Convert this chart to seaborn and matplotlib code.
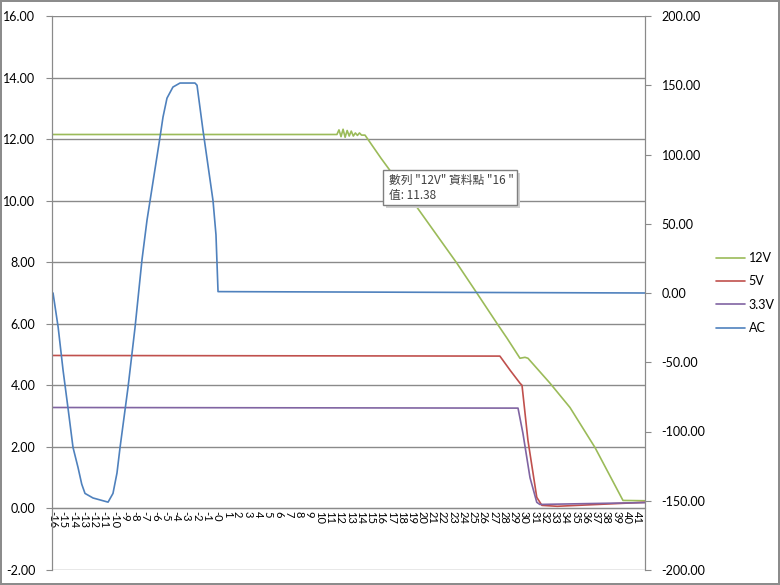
import matplotlib
matplotlib.use("Agg")
import matplotlib.pyplot as plt
import matplotlib.patches as mpatches
import numpy as np
import pandas as pd
import seaborn as sns

# category labels on the x axis (Excel style, "-0" included)
x_labels = [str(v) for v in range(-16, 0)] + ["-0"] + [str(v) for v in range(1, 42)]
x_pos = list(range(-16, 42))

# 12V (left axis)
t_12v = [-16, 11.7, 11.9, 12.1, 12.3, 12.5, 12.7, 12.9, 13.1, 13.3, 13.5, 13.7, 13.9, 14.1, 14.44,
         16.0, 19.5, 23.4, 25.37, 27.3, 28.3, 29.56, 30.05, 30.34, 32.49, 34.44, 36.88, 39.61, 41.76]
v_12v = [12.15, 12.15, 12.3, 12.08, 12.32, 12.06, 12.28, 12.1, 12.26, 12.1, 12.2, 12.12, 12.2, 12.13, 12.13,
         11.38, 9.79, 7.97, 6.99, 6.02, 5.53, 4.88, 4.91, 4.88, 4.07, 3.28, 1.98, 0.26, 0.25]

# 5V (left axis)
t_5v = [-16, 27.6, 28.6, 29.56, 29.76, 30.34, 31.2, 31.7, 33.2, 41.76]
v_5v = [4.97, 4.95, 4.49, 4.07, 4.0, 2.21, 0.36, 0.1, 0.07, 0.2]

# 3.3V (left axis)
t_33v = [-16, 29.37, 29.85, 30.54, 31.2, 31.5, 41.76]
v_33v = [3.28, 3.26, 2.44, 1.0, 0.2, 0.13, 0.19]

# AC (right axis)
t_ac = [-16, -15.5, -15.02, -14.54, -14.05, -13.56, -13.2, -12.88, -12.1, -10.63, -10.15, -9.76,
        -9.46, -8.68, -8.0, -7.32, -6.83, -5.56, -5.27, -4.88, -4.3, -3.61, -2.15, -1.95,
        -1.37, -0.39, -0.1, 0.1, 41.76]
v_ac = [0, -24.7, -55.8, -83, -111.5, -126, -138, -144.7, -148, -151, -144.7, -130,
        -111.5, -68, -25, 24, 52.6, 112.6, 127, 140.7, 148.7, 151.6, 151.6, 150,
        117.6, 66.7, 42, 1, 0]

colors = {"12V": "#9BBB59", "5V": "#C0504D", "3.3V": "#8064A2", "AC": "#4F81BD"}

sns.set_style("white")
plt.rcParams["font.family"] = ["Lato", "DejaVu Sans"]

df_left = pd.concat([
    pd.DataFrame({"t": t_12v, "v": v_12v, "series": "12V"}),
    pd.DataFrame({"t": t_5v, "v": v_5v, "series": "5V"}),
    pd.DataFrame({"t": t_33v, "v": v_33v, "series": "3.3V"}),
])
df_ac = pd.DataFrame({"t": t_ac, "v": v_ac, "series": "AC"})

fig = plt.figure(figsize=(7.8, 5.85), dpi=100)
fig.patch.set_edgecolor("#8c8c8c")
fig.patch.set_linewidth(1.5)
ax = fig.add_axes([52 / 780, 1 - 570 / 585, 593 / 780, 554 / 585])
ax2 = ax.twinx()

sns.lineplot(data=df_left, x="t", y="v", hue="series", palette=colors, sort=False,
             estimator=None, lw=1.2, ax=ax, legend=False)
sns.lineplot(data=df_ac, x="t", y="v", hue="series", palette=colors, sort=False,
             estimator=None, lw=1.2, ax=ax2, legend=False)

grid_c = "#8a8a8a"
ax.set_xlim(-16.1, 41.76)
ax.set_ylim(-2, 16)
ax.set_yticks(np.arange(-2, 17, 2))
ax.set_yticklabels([f"{v:.2f}" for v in np.arange(-2, 17, 2)], fontsize=9)
ax.yaxis.grid(True, color=grid_c, lw=1)
ax.set_axisbelow(True)
ax2.set_ylim(-200, 200)
ax2.set_yticks(np.arange(-200, 201, 50))
ax2.set_yticklabels([f"{v:.2f}" for v in np.arange(-200, 201, 50)], fontsize=9)
for a in (ax, ax2):
    a.set_xlabel("")
    a.set_ylabel("")

ax.spines["bottom"].set_position(("data", 0))
for a in (ax, ax2):
    for s in a.spines.values():
        s.set_color(grid_c)
    a.spines["top"].set_visible(False)
ax2.spines["bottom"].set_visible(False)
ax.tick_params(axis="y", length=4, color=grid_c, pad=8, labelcolor="black")
ax2.tick_params(axis="y", length=4, color=grid_c, pad=8, labelcolor="black")

ax.set_xticks(x_pos)
ax.set_xticklabels(x_labels, fontsize=8)
ax.tick_params(axis="x", length=0, pad=2, labelrotation=-90, labelcolor="black")
for lab in ax.get_xticklabels():
    lab.set_rotation(-90)
    lab.set_va("top")
    lab.set_ha("center")

# legend on the right
handles = [plt.Line2D([], [], color=colors[k], lw=1.2) for k in ["12V", "5V", "3.3V", "AC"]]
leg = fig.legend(handles, ["12V", "5V", "3.3V", "AC"], loc="center left",
                 bbox_to_anchor=(705 / 780, 1 - 293 / 585), frameon=False, fontsize=9,
                 handlelength=2.3, handletextpad=0.3, labelspacing=0.9)
for txt in leg.get_texts():
    txt.set_color("black")

# tooltip box
fig.patches.append(mpatches.Rectangle((386 / 780, 1 - 208 / 585), 134 / 780, 35 / 585,
                                      transform=fig.transFigure, facecolor="#d0d0d0",
                                      edgecolor="none", zorder=5))
fig.patches.append(mpatches.Rectangle((383 / 780, 1 - 205 / 585), 134 / 780, 35 / 585,
                                      transform=fig.transFigure, facecolor="white",
                                      edgecolor="#7f7f7f", lw=1, zorder=6))
cjk = ["Noto Sans CJK TC", "DejaVu Sans"]
fig.text(389 / 780, 1 - 180 / 585, '數列 "12V" 資料點 "16 "', family=cjk, fontsize=8.5,
         color="#404040", va="center", zorder=7)
fig.text(389 / 780, 1 - 196 / 585, "值: 11.38", family=cjk, fontsize=8.5,
         color="#404040", va="center", zorder=7)

fig.savefig("out.png", dpi=100)
